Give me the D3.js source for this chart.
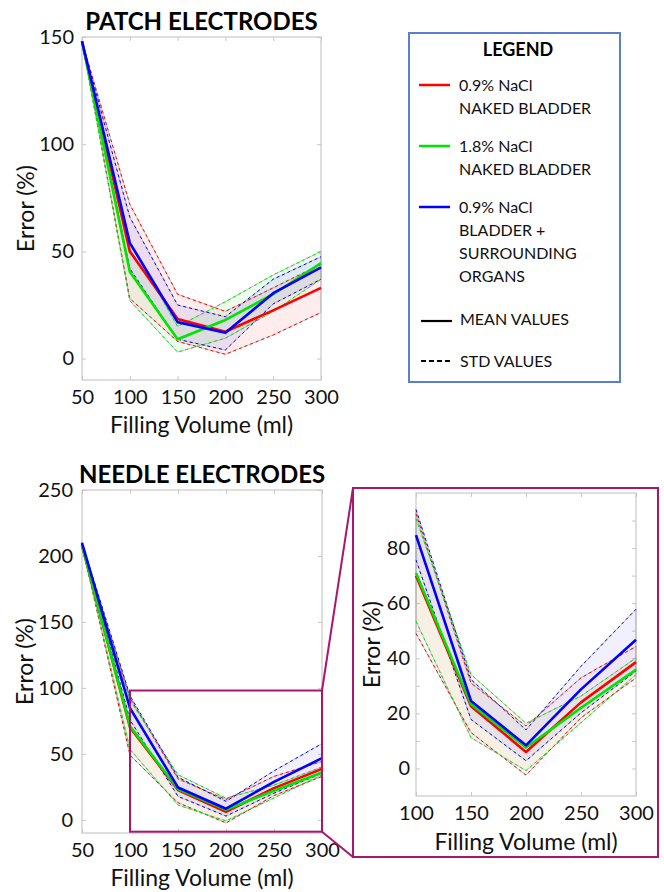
<!DOCTYPE html>
<html>
<head>
<meta charset="utf-8">
<script src="https://cdn.jsdelivr.net/npm/d3@7"></script>
<style>
body { margin: 0; background: #fff; }
svg { font-family: Lato, "Open Sans", sans-serif; }
</style>
</head>
<body>
<svg width="664" height="892"></svg>
<script>
// filling volumes (ml)
var volumes = [50, 100, 150, 200, 250, 300];

// PATCH electrodes, error (%)
var patchRedMean    = [148, 50, 18.5, 12.5, 22.5, 33];
var patchRedUpper   = [148, 72, 30, 22, 33, 44];
var patchRedLower   = [148, 28, 8, 2, 11, 21.5];
var patchGreenMean  = [148, 40.5, 9, 18, 30, 44.5];
var patchGreenUpper = [148, 54, 15, 26.5, 39, 50];
var patchGreenLower = [148, 27, 3, 9.5, 22, 37];
var patchBlueMean   = [148, 54, 17, 12, 30.5, 42.5];
var patchBlueUpper  = [148, 66, 25, 19.5, 37, 47.5];
var patchBlueLower  = [148, 42, 9, 4, 25.5, 37];

// NEEDLE electrodes, error (%)
var needleRedMean    = [208, 70, 22.6, 6, 24, 38.6];
var needleRedUpper   = [208, 92.5, 31, 15.4, 32.9, 44.3];
var needleRedLower   = [208, 49, 13, -2.4, 18.4, 32.9];
var needleGreenMean  = [208, 71, 23.3, 7.6, 22, 35.9];
var needleGreenUpper = [208, 90.7, 34.1, 16.4, 26.3, 40.1];
var needleGreenLower = [208, 53.4, 11.2, -0.8, 16.6, 34.1];
var needleBlueMean   = [210, 84.7, 24.5, 8.4, 28.7, 46.7];
var needleBlueUpper  = [210, 94, 32.3, 14, 37.1, 57.8];
var needleBlueLower  = [210, 75.7, 17.8, 2.8, 20.2, 35.3];

// tick values
var patchYTicks  = [0, 50, 100, 150];
var needleYTicks = [0, 50, 100, 150, 200, 250];
var insetYTicks  = [0, 10, 20, 30, 40, 50, 60, 70, 80, 90];
var insetXTicks  = [100, 150, 200, 250, 300];

// zoomed region of the needle chart
var zoomVolumes = [100, 300];
var zoomErrors  = [-9, 98];

// legend
var legendNames = [["0.9% NaCl", "NAKED BLADDER"], ["1.8% NaCl", "NAKED BLADDER"],
                   ["0.9% NaCl", "BLADDER +", "SURROUNDING", "ORGANS"]];

var svg = d3.select("svg");
var red = "#ff0000", green = "#00e400", blue = "#0000ff", magenta = "#a8176f";

function series(color, fill, mean, upper, lower) {
  return {color: color, fill: fill, rows: volumes.map(function(v, i) {
    return {v: v, m: mean[i], hi: upper[i], lo: lower[i]};
  })};
}

var patchSeries = [
  series(red, "rgba(255,0,0,0.07)", patchRedMean, patchRedUpper, patchRedLower),
  series(green, "rgba(0,220,0,0.07)", patchGreenMean, patchGreenUpper, patchGreenLower),
  series(blue, "rgba(0,0,255,0.07)", patchBlueMean, patchBlueUpper, patchBlueLower)
];
var needleSeries = [
  series(red, "rgba(255,0,0,0.035)", needleRedMean, needleRedUpper, needleRedLower),
  series(green, "rgba(150,180,40,0.08)", needleGreenMean, needleGreenUpper, needleGreenLower),
  series(blue, "rgba(0,0,255,0.06)", needleBlueMean, needleBlueUpper, needleBlueLower)
];

function drawPanel(o) {
  var g = svg.append("g").attr("transform", "translate(" + o.left + "," + o.top + ")");
  var x = d3.scaleLinear().domain(o.xDomain).range([0, o.width]);
  var y = d3.scaleLinear().domain(o.yDomain).range([o.height, 0]);

  g.append("rect").attr("width", o.width).attr("height", o.height)
    .attr("fill", "none").attr("stroke", "#c8c8c8").attr("stroke-width", 1.2);

  var yLeft = d3.axisLeft(y).tickValues(o.yTicks).tickSize(-4).tickPadding(o.yPad)
    .tickFormat(function(d) { return (o.yEvery && d % o.yEvery) ? "" : d; });
  var yRight = d3.axisRight(y).tickValues(o.yTicks).tickSize(-4).tickFormat("");
  var xBottom = d3.axisBottom(x).tickValues(o.xTicks).tickSize(-4).tickPadding(10);
  var xTop = d3.axisTop(x).tickValues(o.xTicks).tickSize(-4).tickFormat("");

  [[yLeft, 0, 0], [yRight, o.width, 0], [xBottom, 0, o.height], [xTop, 0, 0]].forEach(function(a) {
    var ax = g.append("g").attr("transform", "translate(" + a[1] + "," + a[2] + ")").call(a[0]);
    ax.select(".domain").remove();
    ax.selectAll("line").attr("stroke", "#c8c8c8");
    ax.selectAll("text").attr("font-size", "20px").attr("fill", "#111").attr("font-family", "Lato");
  });

  var data = o.series.map(function(s) {
    return {s: s, rows: s.rows.filter(function(r) { return r.v >= o.xDomain[0]; })};
  });

  var area = d3.area().x(function(d) { return x(d.v); })
    .y0(function(d) { return y(d.lo); }).y1(function(d) { return y(d.hi); });
  var line = function(key) {
    return d3.line().x(function(d) { return x(d.v); }).y(function(d) { return y(d[key]); });
  };

  data.forEach(function(d) {
    g.append("path").datum(d.rows).attr("d", area)
      .attr("fill", d.s.fill).attr("stroke", "#b4b4b4").attr("stroke-width", 0.8);
  });
  data.forEach(function(d) {
    ["hi", "lo"].forEach(function(k) {
      g.append("path").datum(d.rows).attr("d", line(k))
        .attr("fill", "none").attr("stroke", d.s.color).attr("stroke-width", 1)
        .attr("stroke-dasharray", "3,3");
    });
  });
  data.forEach(function(d) {
    g.append("path").datum(d.rows).attr("d", line("m"))
      .attr("fill", "none").attr("stroke", d.s.color).attr("stroke-width", 2.6)
      .attr("stroke-linejoin", "round");
  });

  // axis titles
  g.append("text").attr("x", o.width / 2).attr("y", o.height + o.xLabelDy)
    .attr("text-anchor", "middle").attr("font-size", "23px").attr("fill", "#111")
    .text("Filling Volume (ml)");
  g.append("text").attr("transform", "translate(" + o.yLabelX + "," + (o.height / 2) + ") rotate(-90)")
    .attr("dy", "0.35em").attr("text-anchor", "middle").attr("font-size", "23px").attr("fill", "#111")
    .text("Error (%)");
  if (o.title) {
    g.append("text").attr("x", o.width / 2).attr("y", o.titleDy)
      .attr("text-anchor", "middle").attr("font-size", "24px").attr("font-weight", "bold")
      .attr("fill", "#000").text(o.title);
  }
  return {x: x, y: y, left: o.left, top: o.top};
}

drawPanel({left: 82, top: 37, width: 239, height: 343, xDomain: [50, 300], yDomain: [-10, 150],
  xTicks: volumes, yTicks: patchYTicks, yPad: 8, series: patchSeries,
  xLabelDy: 53, yLabelX: -56, title: "PATCH ELECTRODES", titleDy: -7});

var needle = drawPanel({left: 82, top: 490, width: 240, height: 343, xDomain: [50, 300], yDomain: [-10, 250],
  xTicks: volumes, yTicks: needleYTicks, yPad: 9, series: needleSeries,
  xLabelDy: 53, yLabelX: -57, title: "NEEDLE ELECTRODES", titleDy: -7});

drawPanel({left: 416, top: 493, width: 220, height: 303, xDomain: [100, 300], yDomain: [-10, 100],
  xTicks: insetXTicks, yTicks: insetYTicks, yEvery: 20, yPad: 6, series: needleSeries,
  xLabelDy: 54, yLabelX: -44});

// zoom rectangle and inset frame
var zx0 = needle.left + needle.x(zoomVolumes[0]), zx1 = needle.left + needle.x(zoomVolumes[1]);
var zy0 = needle.top + needle.y(zoomErrors[1]), zy1 = needle.top + needle.y(zoomErrors[0]);
var frame = {x0: 353, y0: 488, x1: 658, y1: 857};

svg.append("rect").attr("x", zx0).attr("y", zy0).attr("width", zx1 - zx0).attr("height", zy1 - zy0)
  .attr("fill", "none").attr("stroke", magenta).attr("stroke-width", 2);
svg.append("rect").attr("x", frame.x0).attr("y", frame.y0)
  .attr("width", frame.x1 - frame.x0).attr("height", frame.y1 - frame.y0)
  .attr("fill", "none").attr("stroke", magenta).attr("stroke-width", 2);
svg.append("line").attr("x1", zx1).attr("y1", zy0).attr("x2", frame.x0).attr("y2", frame.y0)
  .attr("stroke", magenta).attr("stroke-width", 2);
svg.append("line").attr("x1", zx1).attr("y1", zy1).attr("x2", frame.x0).attr("y2", frame.y1)
  .attr("stroke", magenta).attr("stroke-width", 2);

// legend
var lg = svg.append("g").attr("transform", "translate(409,33)");
lg.append("rect").attr("width", 211).attr("height", 349)
  .attr("fill", "#fff").attr("stroke", "#5b7fcc").attr("stroke-width", 2);
lg.append("text").attr("x", 109).attr("y", 23).attr("text-anchor", "middle")
  .attr("font-size", "18px").attr("font-weight", "bold").text("LEGEND");

var legendColors = [red, green, blue];
var legendY = [52, 113, 174];
legendNames.forEach(function(lines, i) {
  lg.append("line").attr("x1", 10).attr("x2", 41).attr("y1", legendY[i]).attr("y2", legendY[i])
    .attr("stroke", legendColors[i]).attr("stroke-width", 2.5);
  lines.forEach(function(t, j) {
    lg.append("text").attr("x", 50).attr("y", legendY[i] + 5.5 + j * 23.2)
      .attr("font-size", "16px").attr("fill", "#111").text(t);
  });
});
lg.append("line").attr("x1", 12).attr("x2", 43).attr("y1", 288).attr("y2", 288)
  .attr("stroke", "#000").attr("stroke-width", 2.2);
lg.append("text").attr("x", 51).attr("y", 291.5).attr("font-size", "16px").attr("fill", "#111").text("MEAN VALUES");
lg.append("line").attr("x1", 12).attr("x2", 43).attr("y1", 328).attr("y2", 328)
  .attr("stroke", "#000").attr("stroke-width", 2).attr("stroke-dasharray", "5,3");
lg.append("text").attr("x", 51).attr("y", 333.5).attr("font-size", "16px").attr("fill", "#111").text("STD VALUES");
</script>
</body>
</html>
